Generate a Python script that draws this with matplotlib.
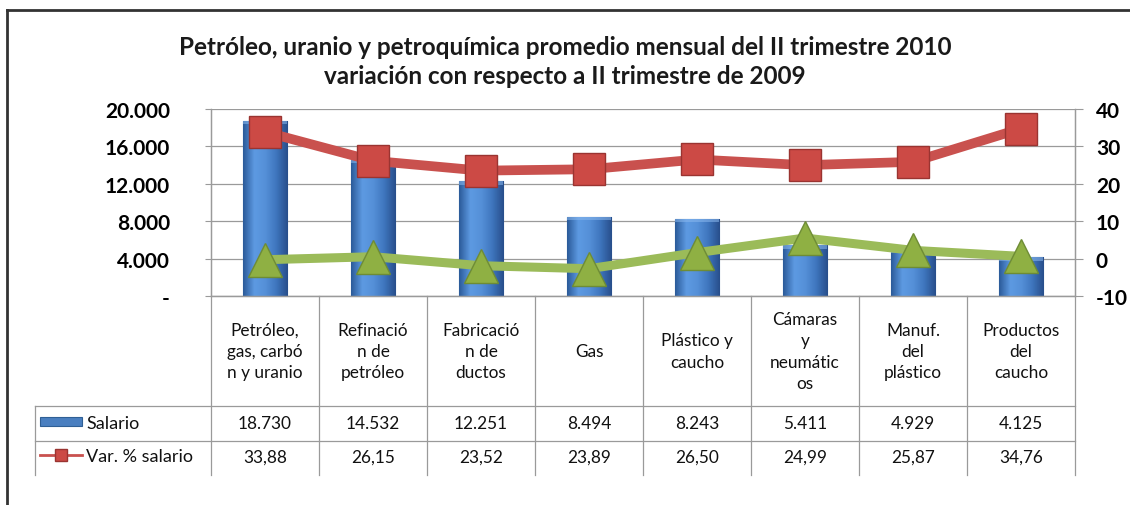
import matplotlib
matplotlib.use("Agg")
import matplotlib.pyplot as plt
import matplotlib.transforms as mtransforms
from matplotlib.lines import Line2D
from matplotlib.patches import Rectangle
from matplotlib.colors import LinearSegmentedColormap
import numpy as np

# ---------------- data ----------------
categorias = [
    "Petróleo,\ngas, carbó\nn y uranio",
    "Refinació\nn de\npetróleo",
    "Fabricació\nn de\nductos",
    "Gas",
    "Plástico y\ncaucho",
    "Cámaras\ny\nneumátic\nos",
    "Manuf.\ndel\nplástico",
    "Productos\ndel\ncaucho",
]
salario = [18730, 14532, 12251, 8494, 8243, 5411, 4929, 4125]
salario_txt = ["18.730", "14.532", "12.251", "8.494", "8.243", "5.411", "4.929", "4.125"]
var_salario = [33.88, 26.15, 23.52, 23.89, 26.50, 24.99, 25.87, 34.76]
var_txt = ["33,88", "26,15", "23,52", "23,89", "26,50", "24,99", "25,87", "34,76"]
serie_verde = [-0.3, 0.5, -1.9, -2.7, 1.6, 5.5, 2.2, 0.6]

left_ticks = [0, 4000, 8000, 12000, 16000, 20000]
left_labels = ["-", "4.000", "8.000", "12.000", "16.000", "20.000"]
right_ticks = [-10, 0, 10, 20, 30, 40]
right_labels = ["-10", "0", "10", "20", "30", "40"]

titulo = ("Petróleo, uranio y petroquímica promedio mensual del II trimestre 2010\n"
          "variación con respecto a II trimestre de 2009")
serie_nombres = ["Salario", "Var. % salario"]

# ---------------- figure ----------------
W, H = 1130, 506
plt.rcParams["font.family"] = ["Lato", "DejaVu Sans"]
fig = plt.figure(figsize=(W / 100, H / 100), dpi=100)
fig.patch.set_facecolor("white")


def fx(x):
    return x / W


def fy(y):
    return 1 - y / H


L, R, T, B = 211, 1075, 110, 297
ax = fig.add_axes([fx(L), fy(B), fx(R) - fx(L), fy(T) - fy(B)])
ax2 = ax.twinx()

grid_c = "#9a9a9a"
n = len(categorias)
x = np.arange(n)

ax.set_xlim(-0.5, n - 0.5)
ax.set_ylim(0, 20000)
ax2.set_ylim(-10, 40)

# bars with gradient
bars = ax.bar(x, salario, width=0.41, color="#4a7fc0", edgecolor="#2f5f95",
              linewidth=0.8, zorder=2)
cmap = LinearSegmentedColormap.from_list(
    "barg", ["#2c5b9a", "#5d9ae2", "#5590d8", "#3e75bd", "#284f8c"])
grad = np.linspace(0, 1, 64).reshape(1, -1)
for b in bars:
    x0, w, h = b.get_x(), b.get_width(), b.get_height()
    im = ax.imshow(grad, cmap=cmap, aspect="auto",
                   extent=[x0, x0 + w, 0, h], zorder=2.1)
    im.set_clip_path(b)
    ax.add_patch(Rectangle((x0, h - 350), w, 350, facecolor="#8ab8ee",
                           edgecolor="none", alpha=0.55, zorder=2.2))
ax.set_xlim(-0.5, n - 0.5)
ax.set_ylim(0, 20000)

ax.set_yticks(left_ticks)
ax.set_yticklabels(left_labels)
ax2.set_yticks(right_ticks)
ax2.set_yticklabels(right_labels)
ax.set_xticks([])
ax.grid(axis="y", color=grid_c, linewidth=0.9)
ax.set_axisbelow(True)

for a in (ax, ax2):
    for s in a.spines.values():
        s.set_color(grid_c)
        s.set_linewidth(0.9)
    a.spines["top"].set_visible(False)

ax.tick_params(axis="y", length=4.5, color=grid_c, pad=25)
ax2.tick_params(axis="y", length=6, color=grid_c, pad=9)
for lab in ax.get_yticklabels():
    lab.set_fontsize(15)
    lab.set_fontweight("bold")
for lab in ax2.get_yticklabels():
    lab.set_fontsize(15)
    lab.set_fontweight("bold")
    lab.set_horizontalalignment("left")

# lines
ax2.plot(x, serie_verde, color="#9bbb59", linewidth=6.5, marker="^",
         markersize=24, markerfacecolor="#8fb043", markeredgecolor="#6e8c35",
         markeredgewidth=1.0, solid_capstyle="butt", zorder=3)
ax2.plot(x, var_salario, color="#c9514e", linewidth=7, marker="s",
         markersize=23, markerfacecolor="#cc4a45", markeredgecolor="#9a3431",
         markeredgewidth=1.0, solid_capstyle="butt", zorder=4)
ax2.set_xlim(-0.5, n - 0.5)

# title
fig.text(0.5, fy(62), titulo, ha="center", va="center", fontsize=17.5,
         fontweight="bold", linespacing=1.35, color="#1a1a1a")

# ---------------- data table ----------------
blend = mtransforms.blended_transform_factory(ax.transData, fig.transFigure)
tab_left = fx(35)
row_top, row1, row2, row_bot = 297, 407, 442, 476
lkw = dict(color=grid_c, linewidth=0.9)

for yy in (row1, row2):
    fig.add_artist(Line2D([tab_left, fx(R)], [fy(yy), fy(yy)],
                          transform=fig.transFigure, **lkw))
fig.add_artist(Line2D([tab_left, tab_left], [fy(row1), fy(row_bot)],
                      transform=fig.transFigure, **lkw))
for i in range(n + 1):
    fig.add_artist(Line2D([i - 0.5, i - 0.5], [fy(row_top), fy(row_bot)],
                          transform=blend, **lkw))

fs_tab = 12.4
for i, c in enumerate(categorias):
    fig.text(i, fy(352), c, transform=blend, ha="center", va="center",
             fontsize=fs_tab, linespacing=1.42, color="#111111")

for i in range(n):
    fig.text(i, fy(424), salario_txt[i], transform=blend, ha="center",
             va="center", fontsize=fs_tab, color="#111111")
    fig.text(i, fy(458), var_txt[i], transform=blend, ha="center",
             va="center", fontsize=fs_tab, color="#111111")

# legend keys in table
fig.add_artist(Rectangle((fx(40), fy(427)), fx(82) - fx(40), fy(418) - fy(427),
                         transform=fig.transFigure, facecolor="#4a7fc0",
                         edgecolor="#2f5f95", linewidth=0.8))
fig.add_artist(Line2D([fx(40), fx(82)], [fy(456), fy(456)],
                      transform=fig.transFigure, color="#c9514e", linewidth=2))
fig.add_artist(Line2D([fx(61)], [fy(456)], transform=fig.transFigure,
                      marker="s", markersize=8, markerfacecolor="#cc4a45",
                      markeredgecolor="#9a3431", linestyle="none"))
fig.text(fx(86), fy(424), serie_nombres[0], ha="left", va="center",
         fontsize=13, color="#111111")
fig.text(fx(86), fy(457), serie_nombres[1], ha="left", va="center",
         fontsize=13, color="#111111")

# outer frame (top and left)
fig.add_artist(Line2D([fx(7), 1], [fy(11), fy(11)], transform=fig.transFigure,
                      color="#333333", linewidth=2))
fig.add_artist(Line2D([fx(7), fx(7)], [fy(11), 0], transform=fig.transFigure,
                      color="#333333", linewidth=2))

fig.savefig("out.png", dpi=100, facecolor="white")
